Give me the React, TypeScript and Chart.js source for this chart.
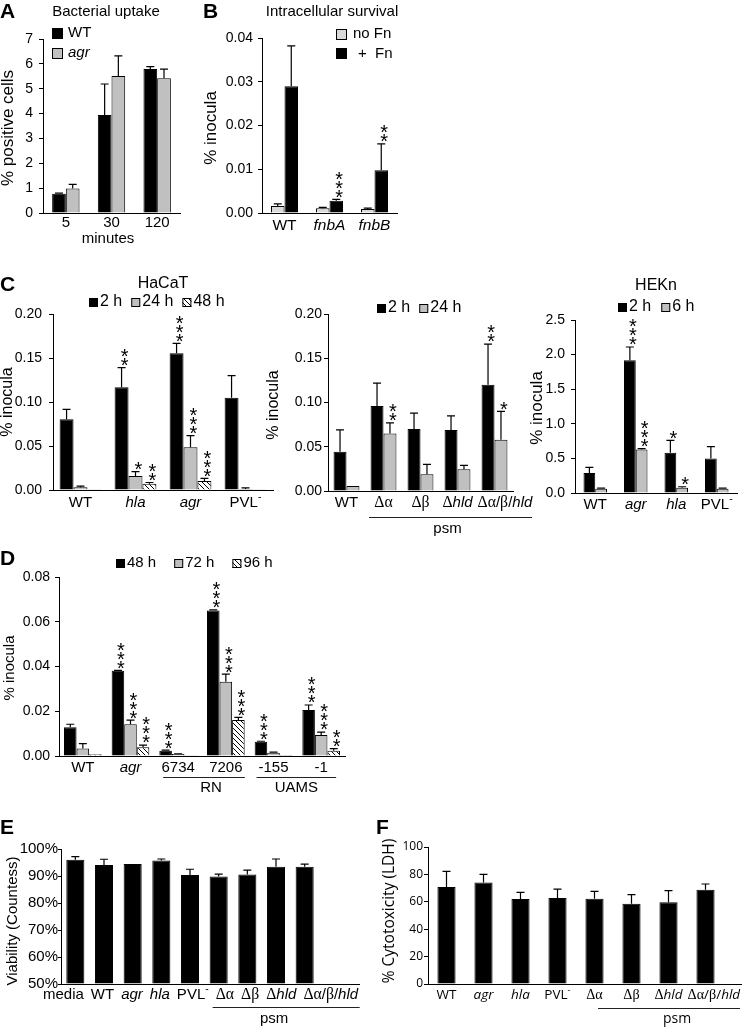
import React, { useEffect, useRef } from 'react';
import { Chart, registerables } from 'chart.js';

Chart.register(...registerables);

const PAGE_W = 750;
const PAGE_H = 1027;
const SANS = '"Liberation Sans", Arial, Helvetica, sans-serif';
const SERIF = '"Liberation Serif", "Times New Roman", serif';
const OPEN = '"Open Sans", "DejaVu Sans", sans-serif';
const BLACK = '#000000';
const GRAY = '#c0c0c0';
const LIGHT = '#dadada';
const STAR_SIZE = 20;

// ---------- Panel A: Bacterial uptake ----------
const aCategories = ['5', '30', '120'];
const aTicks = [0, 1, 2, 3, 4, 5, 6, 7];
const aWT = [0.77, 3.94, 5.79];
const aWTErr = [0.8, 5.19, 5.89];
const aAgr = [0.99, 5.51, 5.42];
const aAgrErr = [1.15, 6.32, 5.79];

// ---------- Panel B: Intracellular survival ----------
const bCategories = ['WT', '<i>fnbA</i>', '<i>fnbB</i>'];
const bTicks = [0, 0.01, 0.02, 0.03, 0.04];
const bNoFn = [0.0016, 0.0011, 0.0009];
const bNoFnErr = [0.0021, 0.0013, 0.0011];
const bFn = [0.029, 0.0028, 0.0098];
const bFnErr = [0.0382, 0.0031, 0.0158];
const bFnStars = [0, 3, 2];

// ---------- Panel C: HaCaT ----------
const cCategories = ['WT', '<i>hla</i>', '<i>agr</i>', 'PVL<sup>-</sup>'];
const cTicks = [0, 0.05, 0.1, 0.15, 0.2];
const c2h = [0.0803, 0.1167, 0.1553, 0.1049];
const c2hErr = [0.0917, 0.139, 0.1667, 0.1299];
const c2hStars = [0, 2, 3, 0];
const c24h = [0.003, 0.0159, 0.0485, 0.0012];
const c24hErr = [0.0045, 0.0208, 0.0617, 0.0025];
const c24hStars = [0, 1, 3, 0];
const c48h = [0.0008, 0.007, 0.0102, 0.0003];
const c48hErr = [0.0008, 0.0085, 0.0133, 0.0003];
const c48hStars = [0, 2, 3, 0];

// ---------- Panel C: psm mutants ----------
const pCategories = ['WT', 'Δα', 'Δβ', 'Δ<i>hld</i>', 'Δα/β/<i>hld</i>'];
const pTicks = [0, 0.05, 0.1, 0.15, 0.2];
const p2h = [0.0444, 0.096, 0.07, 0.069, 0.12];
const p2hErr = [0.069, 0.122, 0.088, 0.085, 0.166];
const p2hStars = [0, 0, 0, 0, 2];
const p24h = [0.0056, 0.065, 0.019, 0.0245, 0.058];
const p24hErr = [0.0056, 0.077, 0.03, 0.029, 0.09];
const p24hStars = [0, 2, 0, 0, 1];

// ---------- Panel C: HEKn ----------
const hCategories = ['WT', '<i>agr</i>', '<i>hla</i>', 'PVL<sup>-</sup>'];
const hTicks = [0, 0.5, 1.0, 1.5, 2.0, 2.5];
const h2h = [0.29, 1.92, 0.58, 0.5];
const h2hErr = [0.37, 2.11, 0.76, 0.67];
const h2hStars = [0, 3, 1, 0];
const h6h = [0.06, 0.63, 0.077, 0.06];
const h6hErr = [0.07, 0.64, 0.09, 0.07];
const h6hStars = [0, 3, 1, 0];

// ---------- Panel D ----------
const dCategories = ['WT', '<i>agr</i>', '6734', '7206', '-155', '-1'];
const dTicks = [0, 0.02, 0.04, 0.06, 0.08];
const d48 = [0.0128, 0.0381, 0.0024, 0.065, 0.0064, 0.0206];
const d48Err = [0.0142, 0.0383, 0.0026, 0.0653, 0.0066, 0.0228];
const d48Stars = [0, 3, 3, 3, 3, 3];
const d72 = [0.0033, 0.0142, 0.0009, 0.0332, 0.0015, 0.0094];
const d72Err = [0.0055, 0.016, 0.001, 0.0366, 0.0017, 0.0107];
const d72Stars = [0, 3, 0, 3, 0, 3];
const d96 = [0.0008, 0.0039, 0.0003, 0.0161, 0.0004, 0.0024];
const d96Err = [0.0008, 0.0049, 0.0003, 0.0173, 0.0004, 0.0033];
const d96Stars = [0, 3, 0, 3, 0, 2];

// ---------- Panel E ----------
const eCategories = ['media', 'WT', '<i>agr</i>', '<i>hla</i>', 'PVL<sup>-</sup>', 'Δα', 'Δβ', 'Δ<i>hld</i>', 'Δα/β/<i>hld</i>'];
const eTicks = [50, 60, 70, 80, 90, 100];
const eViability = [96.0, 94.1, 94.4, 95.7, 90.4, 89.8, 90.6, 93.4, 93.4];
const eViabilityErr = [97.2, 96.2, 94.4, 96.3, 92.5, 90.7, 92.2, 96.3, 94.4];

// ---------- Panel F ----------
const fCategories = ['WT', '<i>agr</i>', '<i>hla</i>', 'PVL<sup>-</sup>', 'Δα', 'Δβ', 'Δ<i>hld</i>', 'Δα/β/<i>hld</i>'];
const fTicks = [0, 20, 40, 60, 80, 100];
const fCytotoxicity = [70.8, 74, 62, 62.8, 62.3, 58.6, 59.6, 68.8];
const fCytotoxicityErr = [82.2, 80, 66.9, 69.3, 67.6, 65.2, 68.1, 73];

// ---------- types ----------
type Fill = 'black' | 'gray' | 'light' | 'hatch';
interface Series { data: number[]; err?: number[]; stars?: number[]; fill: Fill }
interface GroupLine { from: number; to: number; dx0: number; dx1: number; y: number; text: string; textDx: number; textY: number; size: number; family: string }
interface Panel {
  labels: string[];
  series: Series[];
  area: { left: number; right: number; top: number; bottom: number };
  yMin: number; yMax: number; yTicks: number[]; fmt: (v: number) => string;
  tickFamily: string; tickSize: number; tickPad: number; tickLen: number;
  barPct: number; catPct: number;
  labelY: number; labelSize: number; labelFamily: string;
  labelMode: 'center' | 'flow'; flowStart?: number; flowGap?: number;
  axisEnd?: number;
  groups?: GroupLine[];
  extras: (ctx: CanvasRenderingContext2D) => void;
}

let HATCH: CanvasPattern | string = '#ffffff';
function makeHatch(): CanvasPattern | string {
  const c = document.createElement('canvas');
  c.width = 5; c.height = 5;
  const g = c.getContext('2d');
  if (!g) return '#ffffff';
  g.fillStyle = '#ffffff';
  g.fillRect(0, 0, 5, 5);
  g.strokeStyle = '#000000';
  g.lineWidth = 1;
  g.beginPath();
  g.moveTo(-1, -1); g.lineTo(6, 6);
  g.moveTo(-1, 4); g.lineTo(2, 7);
  g.moveTo(4, -1); g.lineTo(7, 2);
  g.stroke();
  return g.createPattern(c, 'repeat') || '#ffffff';
}
function fillOf(f: Fill): any {
  if (f === 'black') return BLACK;
  if (f === 'gray') return GRAY;
  if (f === 'light') return LIGHT;
  return HATCH;
}

// ---------- text helpers ----------
function txt(ctx: CanvasRenderingContext2D, s: string, x: number, y: number, size: number, align: CanvasTextAlign = 'center', family = SANS, weight = '') {
  ctx.font = `${weight}${size}px ${family}`;
  ctx.fillStyle = BLACK;
  ctx.textAlign = align;
  ctx.textBaseline = 'middle';
  ctx.fillText(s, x, y);
}
function vtxt(ctx: CanvasRenderingContext2D, s: string, cx: number, cy: number, size: number, family = SANS) {
  ctx.save();
  ctx.translate(cx, cy);
  ctx.rotate(-Math.PI / 2);
  txt(ctx, s, 0, 0, size, 'center', family);
  ctx.restore();
}
function letter(ctx: CanvasRenderingContext2D, s: string, x: number, baseline: number) {
  ctx.font = `bold 21px ${SANS}`;
  ctx.fillStyle = BLACK;
  ctx.textAlign = 'left';
  ctx.textBaseline = 'alphabetic';
  ctx.fillText(s, x, baseline);
}
interface Seg { t: string; it: boolean; sup: boolean; greek: boolean }
function parseRich(s: string): Seg[] {
  const out: Seg[] = [];
  let it = false, sup = false;
  for (const p of s.split(/(<\/?i>|<\/?sup>)/)) {
    if (p === '<i>') it = true;
    else if (p === '</i>') it = false;
    else if (p === '<sup>') sup = true;
    else if (p === '</sup>') sup = false;
    else if (p) {
      let buf = '', bufG = false;
      for (const ch of p) {
        const g = /[Δαβ]/.test(ch);
        if (buf && g !== bufG) { out.push({ t: buf, it, sup, greek: bufG }); buf = ''; }
        buf += ch; bufG = g;
      }
      if (buf) out.push({ t: buf, it, sup, greek: bufG });
    }
  }
  return out;
}
function segFont(seg: Seg, size: number, family: string) {
  const sz = seg.sup ? size * 0.7 : seg.greek ? size * 1.05 : size;
  const fam = seg.greek ? SERIF : family;
  return `${seg.it && !seg.greek ? 'italic ' : ''}${sz}px ${fam}`;
}
function richWidth(ctx: CanvasRenderingContext2D, s: string, size: number, family: string) {
  let w = 0;
  for (const seg of parseRich(s)) { ctx.font = segFont(seg, size, family); w += ctx.measureText(seg.t).width; }
  return w;
}
function drawRich(ctx: CanvasRenderingContext2D, s: string, left: number, y: number, size: number, family: string) {
  let x = left;
  ctx.fillStyle = BLACK;
  ctx.textAlign = 'left';
  ctx.textBaseline = 'middle';
  for (const seg of parseRich(s)) {
    ctx.font = segFont(seg, size, family);
    ctx.fillText(seg.t, x, seg.sup ? y - size * 0.38 : y);
    x += ctx.measureText(seg.t).width;
  }
}
function swatch(ctx: CanvasRenderingContext2D, x: number, y: number, s: number, f: Fill) {
  ctx.fillStyle = fillOf(f);
  ctx.fillRect(x, y, s, s);
  ctx.strokeStyle = BLACK;
  ctx.lineWidth = 1;
  ctx.strokeRect(x + 0.5, y + 0.5, s - 1, s - 1);
}
function legendRow(ctx: CanvasRenderingContext2D, x: number, cy: number, items: [Fill, string][], size: number, sw: number, gapText: number, gapItem: number) {
  let cx = x;
  for (const [f, label] of items) {
    swatch(ctx, cx, Math.round(cy - sw / 2), sw, f);
    cx += sw + gapText;
    txt(ctx, label, cx, cy, size, 'left');
    ctx.font = `${size}px ${SANS}`;
    cx += ctx.measureText(label).width + gapItem;
  }
}

// ---------- plugin ----------
const STAR_DX = 3, STAR_LIFT = 7, STAR_GAP = 9;
function makePlugin(p: Panel) {
  return {
    id: 'panelExtras',
    afterDatasetsDraw(chart: any) {
      const ctx: CanvasRenderingContext2D = chart.ctx;
      const ys = chart.scales.y;
      ctx.save();
      chart.data.datasets.forEach((ds: any, di: number) => {
        const meta = chart.getDatasetMeta(di);
        meta.data.forEach((el: any, i: number) => {
          const v = ds.data[i];
          const e = ds.errTop ? ds.errTop[i] : v;
          const x = el.x;
          let topY = el.y;
          if (e > v) {
            const ye = ys.getPixelForValue(e);
            ctx.strokeStyle = BLACK;
            ctx.lineWidth = 1.2;
            ctx.beginPath();
            ctx.moveTo(x, el.y); ctx.lineTo(x, ye);
            ctx.moveTo(x - 4, ye); ctx.lineTo(x + 4, ye);
            ctx.stroke();
            topY = ye;
          }
          const n = ds.stars ? ds.stars[i] : 0;
          if (n > 0) {
            ctx.fillStyle = BLACK;
            ctx.font = `${STAR_SIZE}px ${SANS}`;
            ctx.textAlign = 'center';
            ctx.textBaseline = 'alphabetic';
            for (let k = 0; k < n; k++) {
              const cy = topY - STAR_LIFT - k * STAR_GAP;
              ctx.fillText('*', x + STAR_DX, cy + STAR_SIZE * 0.57);
            }
          }
        });
      });
      ctx.restore();
    },
    afterDraw(chart: any) {
      const ctx: CanvasRenderingContext2D = chart.ctx;
      const xs = chart.scales.x;
      const area = chart.chartArea;
      ctx.save();
      // axis extension
      if (p.axisEnd && p.axisEnd > area.right) {
        ctx.strokeStyle = BLACK; ctx.lineWidth = 1;
        const yy = Math.round(area.bottom) + 0.5;
        ctx.beginPath(); ctx.moveTo(area.right - 1, yy); ctx.lineTo(p.axisEnd, yy); ctx.stroke();
      }
      // category labels
      const widths = p.labels.map((l) => richWidth(ctx, l, p.labelSize, p.labelFamily));
      if (p.labelMode === 'flow') {
        let x = p.flowStart ?? area.left;
        p.labels.forEach((l, i) => { drawRich(ctx, l, x, p.labelY, p.labelSize, p.labelFamily); x += widths[i] + (p.flowGap ?? 6); });
      } else {
        let prevRight = -1e9;
        p.labels.forEach((l, i) => {
          let left = xs.getPixelForTick(i) - widths[i] / 2;
          if (left < prevRight + 5) left = prevRight + 5;
          drawRich(ctx, l, left, p.labelY, p.labelSize, p.labelFamily);
          prevRight = left + widths[i];
        });
      }
      // group lines
      (p.groups || []).forEach((g) => {
        const x0 = xs.getPixelForTick(g.from) + g.dx0;
        const x1 = xs.getPixelForTick(g.to) + g.dx1;
        ctx.strokeStyle = '#222'; ctx.lineWidth = 1;
        ctx.beginPath(); ctx.moveTo(x0, g.y + 0.5); ctx.lineTo(x1, g.y + 0.5); ctx.stroke();
        txt(ctx, g.text, (x0 + x1) / 2 + g.textDx, g.textY, g.size, 'center', g.family);
      });
      p.extras(ctx);
      ctx.restore();
    },
  };
}

function buildConfig(p: Panel): any {
  return {
    type: 'bar',
    data: {
      labels: p.labels,
      datasets: p.series.map((s) => ({
        data: s.data,
        errTop: s.err,
        stars: s.stars,
        backgroundColor: fillOf(s.fill),
        borderColor: BLACK,
        borderWidth: 1,
        barPercentage: p.barPct,
        categoryPercentage: p.catPct,
        base: p.yMin,
      })),
    },
    options: {
      responsive: false,
      animation: false,
      devicePixelRatio: 1,
      layout: { padding: { left: 0, top: p.area.top, right: PAGE_W - p.area.right, bottom: PAGE_H - p.area.bottom } },
      plugins: { legend: { display: false }, tooltip: { enabled: false }, title: { display: false } },
      scales: {
        x: {
          type: 'category',
          offset: true,
          grid: { display: false },
          border: { display: true, color: BLACK, width: 1 },
          ticks: { display: false },
          afterFit: (s: any) => { s.height = 0; },
        },
        y: {
          type: 'linear',
          min: p.yMin,
          max: p.yMax,
          grid: { display: true, drawOnChartArea: false, drawTicks: true, tickLength: p.tickLen, color: BLACK, lineWidth: 1 },
          border: { display: true, color: BLACK, width: 1 },
          ticks: {
            autoSkip: false,
            color: BLACK,
            padding: p.tickPad,
            font: { family: p.tickFamily, size: p.tickSize },
            callback: (v: any) => p.fmt(Number(v)),
          },
          afterBuildTicks: (s: any) => { s.ticks = p.yTicks.map((v) => ({ value: v })); },
          afterFit: (s: any) => { s.width = p.area.left; },
        },
      },
    },
    plugins: [makePlugin(p)],
  };
}

const fix2 = (v: number) => v.toFixed(2);

const PANELS: Panel[] = [
  {
    labels: aCategories,
    series: [{ data: aWT, err: aWTErr, fill: 'black' }, { data: aAgr, err: aAgrErr, fill: 'gray' }],
    area: { left: 43, right: 180, top: 39, bottom: 213 },
    yMin: 0, yMax: 7, yTicks: aTicks, fmt: (v) => String(v),
    tickFamily: SANS, tickSize: 14, tickPad: 6, tickLen: 4,
    barPct: 1, catPct: 0.6,
    labelY: 223, labelSize: 15, labelFamily: SANS, labelMode: 'center',
    extras: (ctx) => {
      letter(ctx, 'A', 0, 18);
      txt(ctx, 'Bacterial uptake', 106, 12, 15);
      swatch(ctx, 52, 28, 11, 'black');
      txt(ctx, 'WT', 68, 33, 15, 'left');
      swatch(ctx, 52, 48, 11, 'gray');
      drawRich(ctx, '<i>agr</i>', 68, 53, 15, SANS);
      txt(ctx, 'minutes', 108, 239, 15);
      vtxt(ctx, '% positive cells', 8, 128, 17);
    },
  },
  {
    labels: bCategories,
    series: [{ data: bNoFn, err: bNoFnErr, fill: 'light' }, { data: bFn, err: bFnErr, stars: bFnStars, fill: 'black' }],
    area: { left: 262, right: 397, top: 38, bottom: 213 },
    yMin: 0, yMax: 0.04, yTicks: bTicks, fmt: fix2,
    tickFamily: SANS, tickSize: 14, tickPad: 5, tickLen: 4,
    barPct: 1, catPct: 0.6,
    labelY: 226, labelSize: 15.5, labelFamily: SANS, labelMode: 'center',
    extras: (ctx) => {
      letter(ctx, 'B', 203, 18);
      txt(ctx, 'Intracellular survival', 332, 12, 15);
      swatch(ctx, 336, 29, 11, 'light');
      txt(ctx, 'no Fn', 353, 34, 15, 'left');
      swatch(ctx, 336, 48, 11, 'black');
      txt(ctx, '+  Fn', 358, 54, 15, 'left');
      vtxt(ctx, '% inocula', 211, 128, 17);
    },
  },
  {
    labels: cCategories,
    series: [
      { data: c2h, err: c2hErr, stars: c2hStars, fill: 'black' },
      { data: c24h, err: c24hErr, stars: c24hStars, fill: 'gray' },
      { data: c48h, err: c48hErr, stars: c48hStars, fill: 'hatch' },
    ],
    area: { left: 53, right: 273, top: 314, bottom: 490 },
    yMin: 0, yMax: 0.2, yTicks: cTicks, fmt: fix2,
    tickFamily: SANS, tickSize: 14, tickPad: 7, tickLen: 4,
    barPct: 1, catPct: 0.76,
    labelY: 503, labelSize: 15, labelFamily: SANS, labelMode: 'center',
    extras: (ctx) => {
      letter(ctx, 'C', 0, 291);
      txt(ctx, 'HaCaT', 163, 284, 16);
      legendRow(ctx, 89, 302, [['black', '2 h'], ['gray', '24 h'], ['hatch', '48 h']], 16, 9, 2, 9);
      vtxt(ctx, '% inocula', 8, 402, 16);
    },
  },
  {
    labels: pCategories,
    series: [
      { data: p2h, err: p2hErr, stars: p2hStars, fill: 'black' },
      { data: p24h, err: p24hErr, stars: p24hStars, fill: 'gray' },
    ],
    area: { left: 328, right: 513, top: 314, bottom: 491 },
    yMin: 0, yMax: 0.2, yTicks: pTicks, fmt: fix2,
    tickFamily: SANS, tickSize: 14, tickPad: 2, tickLen: 4,
    barPct: 1, catPct: 0.7,
    labelY: 503, labelSize: 15, labelFamily: SANS, labelMode: 'center',
    groups: [{ from: 1, to: 4, dx0: -14.5, dx1: 37.5, y: 517, text: 'psm', textDx: -3, textY: 529, size: 15, family: SANS }],
    extras: (ctx) => {
      legendRow(ctx, 377, 308, [['black', '2 h'], ['gray', '24 h']], 16, 9, 2, 9);
      vtxt(ctx, '% inocula', 274, 405, 16);
    },
  },
  {
    labels: hCategories,
    series: [
      { data: h2h, err: h2hErr, stars: h2hStars, fill: 'black' },
      { data: h6h, err: h6hErr, stars: h6hStars, fill: 'gray' },
    ],
    area: { left: 575, right: 737, top: 320, bottom: 493 },
    yMin: 0, yMax: 2.5, yTicks: hTicks, fmt: (v) => v.toFixed(1),
    tickFamily: SANS, tickSize: 14, tickPad: 6, tickLen: 4,
    barPct: 1, catPct: 0.58,
    labelY: 505, labelSize: 15, labelFamily: SANS, labelMode: 'center',
    extras: (ctx) => {
      txt(ctx, 'HEKn', 656, 286, 16);
      legendRow(ctx, 618, 307, [['black', '2 h'], ['gray', '6 h']], 16, 9, 2, 10);
      vtxt(ctx, '% inocula', 537, 408, 17);
    },
  },
  {
    labels: dCategories,
    series: [
      { data: d48, err: d48Err, stars: d48Stars, fill: 'black' },
      { data: d72, err: d72Err, stars: d72Stars, fill: 'gray' },
      { data: d96, err: d96Err, stars: d96Stars, fill: 'hatch' },
    ],
    area: { left: 59, right: 345, top: 577, bottom: 756 },
    yMin: 0, yMax: 0.08, yTicks: dTicks, fmt: fix2,
    tickFamily: SANS, tickSize: 14, tickPad: 5, tickLen: 4,
    barPct: 1, catPct: 0.79,
    labelY: 768, labelSize: 15, labelFamily: SANS, labelMode: 'center',
    groups: [
      { from: 2, to: 3, dx0: -15, dx1: 19, y: 777, text: 'RN', textDx: 7, textY: 788, size: 15, family: SANS },
      { from: 4, to: 5, dx0: -17, dx1: 15, y: 777, text: 'UAMS', textDx: 0, textY: 788, size: 15, family: SANS },
    ],
    extras: (ctx) => {
      letter(ctx, 'D', 0, 565);
      legendRow(ctx, 116, 563, [['black', '48 h'], ['gray', '72 h'], ['hatch', '96 h']], 15, 9, 2, 18);
      vtxt(ctx, '% inocula', 10, 668, 15);
    },
  },
  {
    labels: eCategories,
    series: [{ data: eViability, err: eViabilityErr, fill: 'black' }],
    area: { left: 61, right: 319, top: 849, bottom: 984 },
    yMin: 50, yMax: 100, yTicks: eTicks, fmt: (v) => `${v}%`,
    tickFamily: SANS, tickSize: 15, tickPad: 0, tickLen: 3,
    barPct: 0.63, catPct: 1,
    labelY: 995, labelSize: 15, labelFamily: SANS, labelMode: 'flow', flowStart: 43, flowGap: 7,
    axisEnd: 360,
    groups: [{ from: 5, to: 8, dx0: -6, dx1: 55, y: 1007, text: 'psm', textDx: -12, textY: 1019, size: 15, family: SANS }],
    extras: (ctx) => {
      letter(ctx, 'E', 0, 834);
      vtxt(ctx, 'Viability (Countess)', 13, 921, 15);
    },
  },
  {
    labels: fCategories,
    series: [{ data: fCytotoxicity, err: fCytotoxicityErr, fill: 'black' }],
    area: { left: 428, right: 724, top: 847, bottom: 984 },
    yMin: 0, yMax: 100, yTicks: fTicks, fmt: (v) => String(v),
    tickFamily: OPEN, tickSize: 12, tickPad: 1, tickLen: 4,
    barPct: 0.49, catPct: 1,
    labelY: 995, labelSize: 13.5, labelFamily: OPEN, labelMode: 'center',
    axisEnd: 742,
    groups: [{ from: 4, to: 7, dx0: 3.5, dx1: 34.5, y: 1008, text: 'psm', textDx: 8, textY: 1019, size: 14, family: OPEN }],
    extras: (ctx) => {
      letter(ctx, 'F', 376, 834);
      vtxt(ctx, '% Cytotoxicity (LDH)', 390, 911, 15.5, OPEN);
    },
  },
];

export default function App() {
  const refs = useRef<(HTMLCanvasElement | null)[]>([]);
  useEffect(() => {
    HATCH = makeHatch();
    const charts = PANELS.map((p, i) => new Chart(refs.current[i] as HTMLCanvasElement, buildConfig(p)));
    return () => charts.forEach((c) => c.destroy());
  }, []);
  return (
    <div style={{ position: 'absolute', left: 0, top: 0, width: PAGE_W, height: PAGE_H, background: '#ffffff', overflow: 'hidden' }}>
      {PANELS.map((_, i) => (
        <canvas
          key={i}
          ref={(el) => { refs.current[i] = el; }}
          width={PAGE_W}
          height={PAGE_H}
          style={{ position: 'absolute', left: 0, top: 0, width: PAGE_W, height: PAGE_H }}
        />
      ))}
    </div>
  );
}
